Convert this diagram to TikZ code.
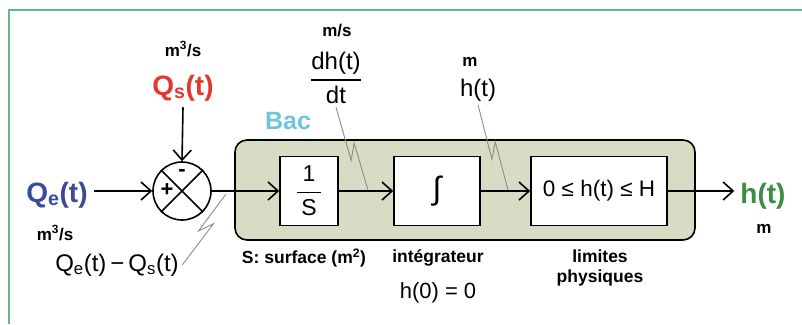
\documentclass[tikz,border=0pt]{standalone}
\usepackage{fontspec}
\setmainfont{Liberation Sans}
\usetikzlibrary{arrows.meta,positioning,calc}
\definecolor{qblue}{HTML}{3D4A9C}
\definecolor{qred}{HTML}{E2382D}
\definecolor{hgreen}{HTML}{3A8F45}
\definecolor{baccyan}{HTML}{6CC6D8}
\definecolor{bacfill}{HTML}{D7DCC4}
\definecolor{framegreen}{HTML}{5DBB7C}
\definecolor{zgray}{HTML}{8C8C8C}
\newcommand{\fsz}[1]{\fontsize{#1}{#1}\selectfont}
\tikzset{
  blk/.style={draw, line width=1.6pt, fill=white, minimum height=69pt, inner sep=0pt},
  flow/.style={-{Straight Barb[length=10pt,width=18pt]}, line width=1.6pt},
  sig/.style={font=\fsz{28}\bfseries, text=#1, inner sep=6pt},
  unitlbl/.style={font=\fsz{17}\bfseries},
  capt/.style={font=\fsz{17.5}\bfseries, align=center},
  val/.style={font=\fsz{24}},
  zig/.style={draw=zgray, line width=0.9pt,
    to path={-- ($(\tikztostart)!.62!(\tikztotarget)!5pt!-90:(\tikztotarget)$)
             -- ($(\tikztostart)!.45!(\tikztotarget)!4pt!90:(\tikztotarget)$)
             -- (\tikztotarget)}}
}

\begin{document}
\begin{tikzpicture}[x=1pt,y=-1pt]
  \useasboundingbox (0,0) rectangle (802,324);
  \draw[framegreen, line width=1.5pt] (9,324) -- (9,10) -- (802,10);

  % bac
  \node[draw, line width=1.6pt, fill=bacfill, rounded corners=12pt,
        minimum width=460pt, minimum height=100pt] (bac) at (465,190) {};
  \node[font=\fsz{25}\bfseries, text=baccyan] (baclbl) at (288,121) {Bac};

  % comparateur
  \node[circle, draw, line width=1.6pt, minimum size=58pt, inner sep=0pt] (sum) at (182,191) {};
  \draw[line width=1.6pt] (sum.north west) -- (sum.south east)
                          (sum.north east) -- (sum.south west);
  \node[font=\fsz{22}\bfseries] (plus) at (167,190) {+};
  \node[font=\fsz{22}\bfseries] (minus) at (182,173) {-};

  % blocs
  \node[blk, minimum width=58pt] (inv) at (309,191)
    {\fsz{23}$\displaystyle{\mbox{\makebox[24pt]{1}}\above1.6pt\mbox{S}}$};
  \node[blk, minimum width=86pt] (intbox) at (437,191) {\fsz{32}∫};
  \node[blk, minimum width=136pt] (lim) at (599,191) {\fsz{22.5}0 ≤ h(t) ≤ H};

  % signaux
  \node[sig=qblue] (qe) at (57,195) {Q\textsubscript{e}(t)};
  \node[sig=qred] (qs) at (183,88) {Q\textsubscript{s}(t)};
  \node[sig=hgreen] (ht) at (763,196) {h(t)};
  \node[unitlbl] (qsunit) at (183,49) {m\textsuperscript{3}/s};
  \node[unitlbl] (qeunit) at (55,233) {m\textsuperscript{3}/s};
  \node[unitlbl] (hunit) at (764,229) {m};
  \node[unitlbl] (dhunit) at (337,31) {m/s};
  \node[unitlbl] (hmunit) at (470,62) {m};
  \node[val] (dhdt) at (336,78) {$\displaystyle{\mbox{dh(t)}\above1.5pt\mbox{dt}}$};
  \node[val] (hmid) at (478,90) {h(t)};
  \node[val] (diff) at (117,265) {Q\textsubscript{e}(t)\,−\,Q\textsubscript{s}(t)};

  % legendes
  \node[capt] (surf) at (304,258) {S: surface (m\textsuperscript{2})};
  \node[capt] (integ) at (438,258) {intégrateur};
  \node[val, font=\fsz{22}] (hzero) at (438,293) {h(0) = 0};
  \node[capt, font=\fontsize{17.5}{20}\selectfont\bfseries] (limits) at (600,268) {limites\\physiques};

  % liaisons
  \draw[flow] (qe.east |- sum) -- (sum.west);
  \draw[flow] (qs.south) -- (sum.north);
  \draw[flow] (sum.east) -- (inv.west);
  \draw[flow] (inv) -- (intbox);
  \draw[flow] (intbox) -- (lim);
  \draw[flow] (lim) -- (ht.west |- lim);

  % renvois
  \coordinate (z1) at (368,190);
  \coordinate (z2) at (508,190);
  \coordinate (z3) at (226,194);
  \draw[zig] (dhdt.south) to (z1);
  \draw[zig] (hmid.south) to (z2);
  \draw[zig] (diff.east) to (z3);
\end{tikzpicture}
\end{document}
